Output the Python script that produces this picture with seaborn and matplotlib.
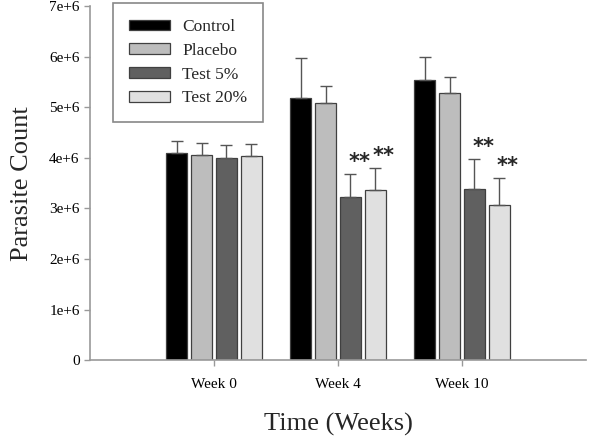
import numpy as np
import pandas as pd
import matplotlib
matplotlib.use('Agg')
import matplotlib.pyplot as plt
from matplotlib.ticker import FuncFormatter
import seaborn as sns

# ── Data ─────────────────────────────────────────────────────
weeks = ['Week 0', 'Week 4', 'Week 10']
groups = ['Control', 'Placebo', 'Test 5%', 'Test 20%']
control = [4.09e6, 5.18e6, 5.54e6]
placebo = [4.06e6, 5.08e6, 5.29e6]
test5 = [3.99e6, 3.22e6, 3.39e6]
test20 = [4.03e6, 3.36e6, 3.06e6]
control_err = [0.25e6, 0.79e6, 0.45e6]
placebo_err = [0.24e6, 0.35e6, 0.31e6]
test5_err = [0.27e6, 0.47e6, 0.58e6]
test20_err = [0.25e6, 0.43e6, 0.54e6]
# significance marks: (group, week)
stars = [('Test 5%', 'Week 4'), ('Test 20%', 'Week 4'),
         ('Test 5%', 'Week 10'), ('Test 20%', 'Week 10')]

colors = ['#000000', '#bdbdbd', '#606060', '#e0e0e0']

df = pd.DataFrame({
    'week': weeks * 4,
    'group': np.repeat(groups, 3),
    'count': control + placebo + test5 + test20,
    'err': control_err + placebo_err + test5_err + test20_err,
})

sns.set_style('ticks')
plt.rcParams['font.family'] = ['Liberation Serif', 'DejaVu Serif']

fig = plt.figure(figsize=(5.89, 4.44), dpi=100)
ax = fig.add_axes([0.153, 0.189, 0.842, 0.797])

sns.barplot(data=df, x='week', y='count', hue='group', order=weeks,
            hue_order=groups, palette=colors, gap=0.15, width=0.8,
            edgecolor='#404040', linewidth=0.9, errorbar=None, ax=ax)

# one-sided error bars + significance stars
for cont, g in zip(ax.containers, groups):
    sub = df[df['group'] == g].set_index('week').loc[weeks]
    for patch, w in zip(cont.patches, weeks):
        xc = patch.get_x() + patch.get_width() / 2
        top = sub.loc[w, 'count']
        e = sub.loc[w, 'err']
        ax.errorbar(xc, top, yerr=[[0], [e]], fmt='none', ecolor='#555555',
                    elinewidth=1, capsize=4.5, capthick=1, zorder=1)
        if (g, w) in stars:
            ax.text(xc + 0.07, top + e + 0.04e6, '**', ha='center',
                    va='bottom', fontsize=15, fontweight='bold',
                    family='DejaVu Sans')

ax.set_xlim(-1, 3)
ax.set_ylim(0, 7e6)
ax.set_yticks(np.arange(0, 7.5e6, 1e6))
ax.yaxis.set_major_formatter(FuncFormatter(
    lambda v, p: '0' if v == 0 else f'{int(round(v / 1e6))}e+6'))

sns.despine(ax=ax)
for s in ['left', 'bottom']:
    ax.spines[s].set_color('#999999')
    ax.spines[s].set_linewidth(1.2)
ax.tick_params(axis='both', colors='#999999', labelcolor='black',
               labelsize=11, length=4, width=1)
ax.tick_params(axis='x', pad=9, labelsize=11)

ax.set_xlabel('Time (Weeks)', fontsize=19, labelpad=16)
ax.set_ylabel('Parasite Count', fontsize=19, labelpad=12)

leg = ax.legend(loc='upper left', bbox_to_anchor=(0.046, 1.008),
                borderaxespad=0, fancybox=False, frameon=True,
                fontsize=12.5, handlelength=2.4, handleheight=0.55,
                labelspacing=0.45, borderpad=0.9, handletextpad=0.7)
leg.get_frame().set_edgecolor('#888888')
leg.get_frame().set_linewidth(1.2)
leg.get_frame().set_alpha(1)

plt.savefig('out.png', dpi=100)
plt.close()
